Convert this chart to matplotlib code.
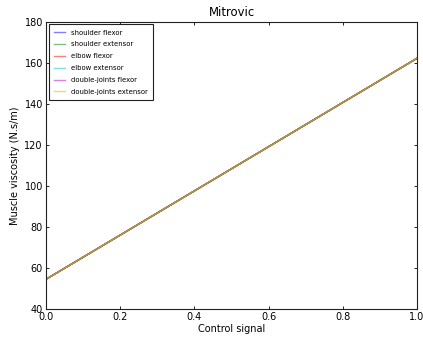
import matplotlib
matplotlib.use("Agg")
import matplotlib.pyplot as plt

control = [0.0, 1.0]
labels = ["shoulder flexor", "shoulder extensor", "elbow flexor",
          "elbow extensor", "double-joints flexor", "double-joints extensor"]
values = {
    "shoulder flexor": [54.5, 162.3],
    "shoulder extensor": [54.5, 162.3],
    "elbow flexor": [54.5, 162.3],
    "elbow extensor": [54.5, 162.3],
    "double-joints flexor": [54.5, 162.3],
    "double-joints extensor": [54.5, 162.3],
}
colors = ["b", "g", "r", "c", "m", "y"]

fig = plt.figure(figsize=(4.23, 3.38), dpi=100)
ax = fig.add_axes([0.109, 0.086, 0.877, 0.849])
for lab, col in zip(labels, colors):
    ax.plot(control, values[lab], color=col, alpha=0.8, lw=1, label=lab)
ax.set_xlim(0, 1)
ax.set_ylim(40, 180)
ax.set_xticks([0, 0.2, 0.4, 0.6, 0.8, 1.0])
ax.set_xticklabels(["0.0", "0.2", "0.4", "0.6", "0.8", "1.0"])
ax.set_yticks(range(40, 181, 20))
for sp in ax.spines.values():
    sp.set_linewidth(0.8)
    sp.set_color("#222222")
ax.tick_params(direction="in", labelsize=7, top=True, right=True, length=2.5,
               width=0.6, pad=2.3)
ax.set_xlabel("Control signal", fontsize=7, labelpad=1.5)
ax.set_ylabel("Muscle viscosity (N.s/m)", fontsize=7, labelpad=3)
ax.set_title("Mitrovic", fontsize=8.4, pad=4)
leg = ax.legend(loc="upper left", fontsize=4.95, fancybox=False, edgecolor="#222222",
                framealpha=1, handlelength=1.6, handletextpad=0.9,
                labelspacing=0.85, borderpad=0.75, borderaxespad=0.35)
leg.get_frame().set_linewidth(0.8)
for h in leg.legend_handles:
    h.set_alpha(0.5)
fig.savefig("out.png", dpi=100)
